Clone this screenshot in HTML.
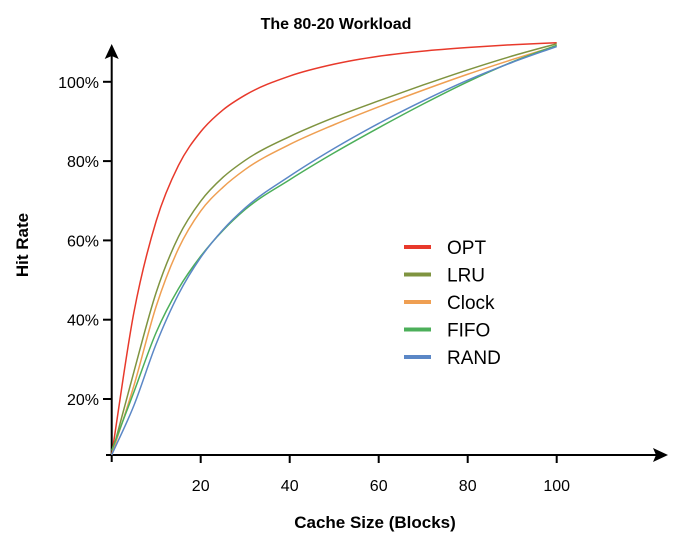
<!DOCTYPE html>
<html><head><meta charset="utf-8"><style>
body{margin:0;background:#fff;}
svg text{font-family:"Liberation Sans",sans-serif;fill:#000;}
</style></head><body>
<svg id="chart" width="680" height="536" viewBox="0 0 680 536">
<text x="336" y="29" font-size="16" font-weight="bold" text-anchor="middle">The 80-20 Workload</text>
<text transform="translate(28,245) rotate(-90)" font-size="17" font-weight="bold" text-anchor="middle">Hit Rate</text>
<text x="375" y="528" font-size="17" font-weight="bold" text-anchor="middle">Cache Size (Blocks)</text>
<g id="axes"></g>
<g id="series"></g>
<g id="legend"></g>
</svg>
<script>
const xs=[0,5,10,15,20,25,30,40,50,60,70,80,90,100];
const optVals=[5.9,41.9,64.9,78.9,87.4,92.9,96.65,101.45,104.45,106.45,107.75,108.65,109.35,109.85];
const lruVals=[5.9,26.9,46.9,60.9,69.9,75.9,80.2,86.2,91,95.2,99.2,103,106.5,109.6];
const clockVals=[5.9,23.4,43.4,57.9,67.4,73.4,77.9,84.2,89.2,93.7,97.9,101.9,105.6,109.1];
const fifoVals=[7,21.8,36.8,47.8,56,62.5,67.8,75.3,82.1,88.4,94.4,100,105,109.2];
const randVals=[5.9,18.4,33.9,46.4,55.7,62.7,68.2,76.2,83.2,89.5,95.2,100.4,104.9,108.9];
const xTicks=[20,40,60,80,100];
const yTicks=[20,40,60,80,100];
const seriesNames=["OPT","LRU","Clock","FIFO","RAND"];
const seriesColors=["#e8392b","#7f9440","#ef9f52","#4caf5a","#5b87c6"];
const allVals=[optVals,lruVals,clockVals,fifoVals,randVals];
const NS="http://www.w3.org/2000/svg";
const X=v=>111.7+v*4.45;
const Y=v=>478.3-v*3.965;
function mk(tag,attrs,parent){const e=document.createElementNS(NS,tag);for(const k in attrs)e.setAttribute(k,attrs[k]);parent.appendChild(e);return e;}
const axes=document.getElementById('axes');
let a=mk('line',{x1:106,y1:455,x2:658,y2:455,stroke:'#000','stroke-width':2},axes);


a=mk('polygon',{points:'668,455 653,448 656,455 653,462',fill:'#000'},axes);


a=mk('line',{x1:111.7,y1:462,x2:111.7,y2:55,stroke:'#000','stroke-width':2},axes);


a=mk('polygon',{points:'111.7,44 104.7,59 111.7,56 118.7,59',fill:'#000'},axes);


xTicks.forEach(t=>{
 let l=mk('line',{x1:X(t),y1:455,x2:X(t),y2:463,stroke:'#000','stroke-width':2},axes);
 
 
 let tx=mk('text',{x:X(t),y:491,'font-size':16,'text-anchor':'middle'},axes);tx.textContent=t;
 
 
});
yTicks.forEach(t=>{
 let l=mk('line',{x1:103,y1:Y(t),x2:111.7,y2:Y(t),stroke:'#000','stroke-width':2},axes);
 
 
 let tx=mk('text',{x:99,y:Y(t)+6,'font-size':16,'text-anchor':'end'},axes);tx.textContent=t+'%';
 
 
});
function pathFor(vals){
 const p=xs.map((x,i)=>[X(x),Y(vals[i])]);
 const n=p.length,m=[];
 const dl=[];
 for(let i=0;i<n-1;i++)dl.push((p[i+1][1]-p[i][1])/(p[i+1][0]-p[i][0]));
 for(let i=0;i<n;i++){
  if(i==0)m.push(dl[0]);else if(i==n-1)m.push(dl[n-2]);
  else{const h0=p[i][0]-p[i-1][0],h1=p[i+1][0]-p[i][0];m.push((dl[i-1]*h1+dl[i]*h0)/(h0+h1));}
 }
 let d='M'+p[0][0]+','+p[0][1];
 for(let i=0;i<n-1;i++){
  const h=p[i+1][0]-p[i][0];
  d+=` C${p[i][0]+h/3},${p[i][1]+m[i]*h/3} ${p[i+1][0]-h/3},${p[i+1][1]-m[i+1]*h/3} ${p[i+1][0]},${p[i+1][1]}`;
 }
 return d;
}
const sg=document.getElementById('series');
const lg=document.getElementById('legend');
allVals.forEach((vals,i)=>{
 let p=mk('path',{d:pathFor(vals),fill:'none',stroke:seriesColors[i],'stroke-width':1.5},sg);
 
 
 const y=247+i*27.5;
 let l=mk('line',{x1:404,y1:y,x2:431,y2:y,stroke:seriesColors[i],'stroke-width':4},lg);
 
 
 let t=mk('text',{x:447,y:y+7,'font-size':19},lg);t.textContent=seriesNames[i];
 
 
});
</script>
</body></html>
